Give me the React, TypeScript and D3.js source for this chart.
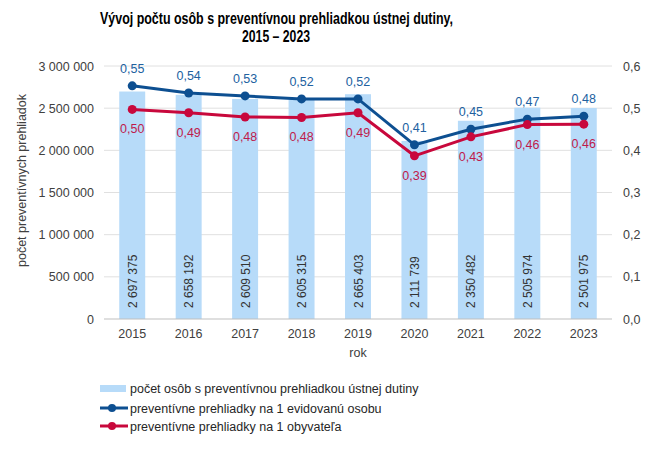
import React from "react";
import * as d3 from "d3";

const years = ["2015", "2016", "2017", "2018", "2019", "2020", "2021", "2022", "2023"];
const persons = [2697375, 2658192, 2609510, 2605315, 2665403, 2111739, 2350482, 2505974, 2501975];
const perRegistered = [0.553, 0.536, 0.529, 0.522, 0.522, 0.413, 0.45, 0.474, 0.481];
const perInhabitant = [0.497, 0.489, 0.479, 0.478, 0.489, 0.387, 0.432, 0.461, 0.462];
const leftTicks = [0, 500000, 1000000, 1500000, 2000000, 2500000, 3000000];
const rightTicks = [0, 0.1, 0.2, 0.3, 0.4, 0.5, 0.6];

const legendLabels = [
  "počet osôb s preventívnou prehliadkou ústnej dutiny",
  "preventívne prehliadky na 1 evidovanú osobu",
  "preventívne prehliadky na 1 obyvateľa",
];

const FONT = "'Liberation Sans', Arial, sans-serif";
const BAR = "#b7dbf9";
const BLUE = "#0d4f91";
const RED = "#c8083c";
const BLUE_T = "#21619f";
const RED_T = "#bf1a4c";

const fmtThousands = (v: number) => String(v).replace(/\B(?=(\d{3})+(?!\d))/g, " ");
const fmtDec = (v: number, d: number) => v.toFixed(d).replace(".", ",");

export default function App() {
  const W = 650, H = 454;
  const left = 104, right = 612, top = 66, bottom = 319;
  const x = d3.scaleBand<string>().domain(years).range([left, right]).paddingInner(0.54).paddingOuter(0.27);
  const yL = d3.scaleLinear().domain([0, 3000000]).range([bottom, top]);
  const yR = d3.scaleLinear().domain([0, 0.6]).range([bottom, top]);
  const cx = (y: string) => (x(y) as number) + x.bandwidth() / 2;
  const line = d3.line<number>().x((_, i) => cx(years[i])).y((d) => yR(d));

  return (
    <svg width={W} height={H} style={{ position: "absolute", left: 0, top: 0, background: "#fff" }} fontFamily={FONT}>
      <text x={100} y={24} textAnchor="start" fontWeight="bold" fontSize={16} fill="#000" textLength={353} lengthAdjust="spacingAndGlyphs">
        Vývoj počtu osôb s preventívnou prehliadkou ústnej dutiny,
      </text>
      <text x={242} y={42} textAnchor="start" fontWeight="bold" fontSize={16} fill="#000" textLength={68} lengthAdjust="spacingAndGlyphs">
        2015 – 2023
      </text>

      {leftTicks.slice(1).map((t) => (
        <line key={t} x1={left} x2={right} y1={yL(t)} y2={yL(t)} stroke="#e0e0e0" strokeWidth={1} />
      ))}

      {years.map((yr, i) => (
        <rect key={yr} x={x(yr)} y={yL(persons[i])} width={x.bandwidth()} height={bottom - yL(persons[i])} fill={BAR} />
      ))}

      <line x1={left} x2={right} y1={bottom} y2={bottom} stroke="#bfbfbf" strokeWidth={1} />

      {years.map((yr, i) => (
        <text key={yr} transform={`translate(${cx(yr) + 4.5},${bottom - 11}) rotate(-90)`} fontSize={12} fill="#333">
          {fmtThousands(persons[i])}
        </text>
      ))}

      <path d={line(perRegistered) || ""} fill="none" stroke={BLUE} strokeWidth={3} />
      <path d={line(perInhabitant) || ""} fill="none" stroke={RED} strokeWidth={3} />
      {years.map((yr, i) => (
        <g key={yr}>
          <circle cx={cx(yr)} cy={yR(perRegistered[i])} r={4.5} fill={BLUE} />
          <circle cx={cx(yr)} cy={yR(perInhabitant[i])} r={4.5} fill={RED} />
          <text x={cx(yr)} y={yR(perRegistered[i]) - 13} textAnchor="middle" fontSize={12.5} fill={BLUE_T}>
            {fmtDec(perRegistered[i], 2)}
          </text>
          <text x={cx(yr)} y={yR(perInhabitant[i]) + 24} textAnchor="middle" fontSize={12.5} fill={RED_T}>
            {fmtDec(perInhabitant[i], 2)}
          </text>
        </g>
      ))}

      {leftTicks.map((t) => (
        <text key={t} x={94} y={yL(t) + 4.5} textAnchor="end" fontSize={12.5} fill="#404040">
          {fmtThousands(t)}
        </text>
      ))}
      {rightTicks.map((t) => (
        <text key={t} x={623} y={yR(t) + 4.5} textAnchor="start" fontSize={12.5} fill="#404040">
          {fmtDec(t, 1)}
        </text>
      ))}
      {years.map((yr) => (
        <text key={yr} x={cx(yr)} y={338} textAnchor="middle" fontSize={12.5} fill="#404040">
          {yr}
        </text>
      ))}
      <text x={(left + right) / 2} y={357} textAnchor="middle" fontSize={12.5} fill="#404040">rok</text>
      <text transform={`translate(26,${(top + bottom) / 2 - 12}) rotate(-90)`} textAnchor="middle" fontSize={12.5} fill="#404040">
        počet preventívnych  prehliadok
      </text>

      <rect x={100} y={385} width={26} height={7} fill={BAR} />
      <text x={130} y={392.5} fontSize={12.5} fill="#262626">{legendLabels[0]}</text>
      <line x1={100} x2={128} y1={408} y2={408} stroke={BLUE} strokeWidth={3} />
      <circle cx={112} cy={408} r={4} fill={BLUE} />
      <text x={130} y={412.5} fontSize={12.5} fill="#262626">{legendLabels[1]}</text>
      <line x1={100} x2={128} y1={426} y2={426} stroke={RED} strokeWidth={3} />
      <circle cx={112} cy={426} r={4} fill={RED} />
      <text x={130} y={430.5} fontSize={12.5} fill="#262626">{legendLabels[2]}</text>
    </svg>
  );
}
